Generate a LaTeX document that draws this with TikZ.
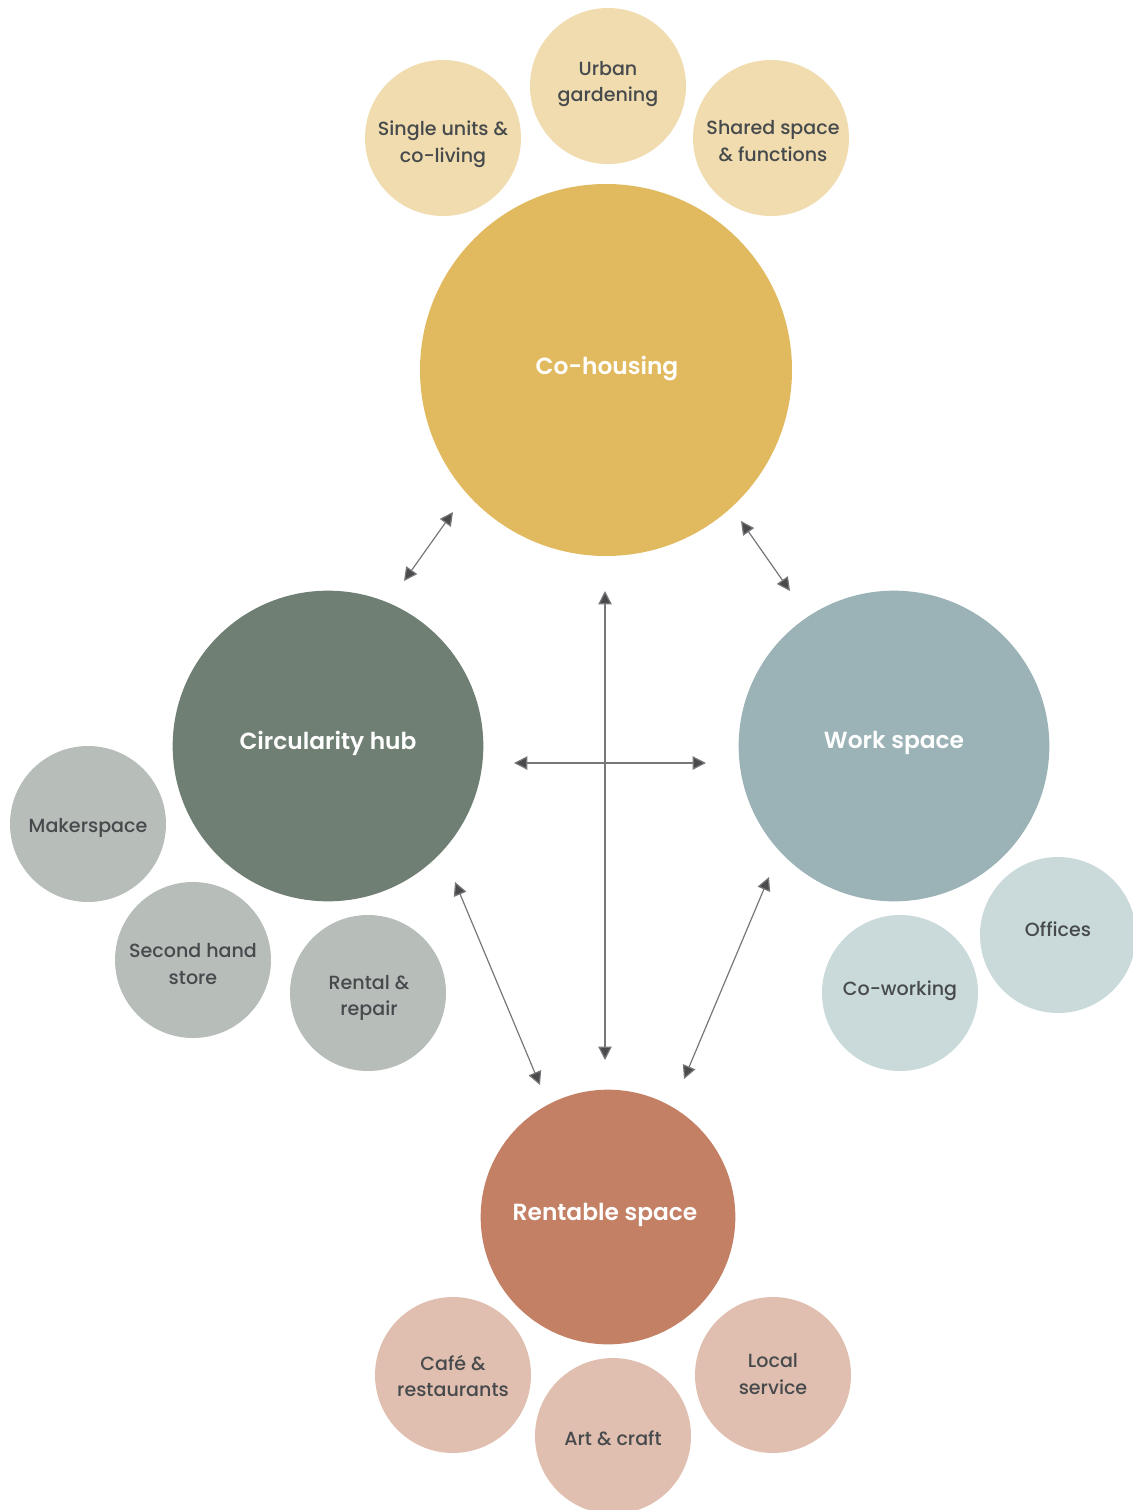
\documentclass[tikz,border=0pt]{standalone}
\usepackage{fontspec}
\setmainfont{Poppins}[UprightFont=* Medium, BoldFont=* SemiBold]
\usetikzlibrary{arrows.meta}
\definecolor{cohouse}{HTML}{E1B95E}
\definecolor{cohouseL}{HTML}{F0DCAE}
\definecolor{circ}{HTML}{6F7F73}
\definecolor{circL}{HTML}{B7BDB8}
\definecolor{work}{HTML}{9BB3B6}
\definecolor{workL}{HTML}{CADADB}
\definecolor{rent}{HTML}{C38065}
\definecolor{rentL}{HTML}{E1BFB0}
\definecolor{txt}{HTML}{474A4C}
\definecolor{arr}{HTML}{4A4A4C}
\tikzset{
  bigc/.style={circle, inner sep=0pt},
  bigt/.style={text=white, font=\fontsize{17.5}{21}\selectfont\bfseries},
  smallc/.style={circle, inner sep=0pt, minimum size=117pt},
  smallt/.style={text=txt, font=\fontsize{14.3}{20}\selectfont, align=center},
  link/.style={draw=arr!75, line width=0.9pt, {Triangle[length=10pt,width=10pt]}-{Triangle[length=10pt,width=10pt]}, arrows={[fill=arr]}}
}
\begin{document}
\begin{tikzpicture}[x=0.75pt,y=-0.75pt]
\useasboundingbox (0,0) rectangle (1132,1510);
% small circles
\node[smallc, fill=cohouseL] (single) at (443,138) {};
\node[smallt] (singlet) at (443,144) {Single units \&\\co-living};
\node[smallc, fill=cohouseL] (urban) at (608,86) {};
\node[smallt] (urbant) at (608,84) {Urban\\gardening};
\node[smallc, fill=cohouseL] (shared) at (771,138) {};
\node[smallt] (sharedt) at (773,141) {Shared space\\\& functions};
\node[smallc, fill=circL] (maker) at (88,824) {};
\node[smallt] (makert) at (88,828) {Makerspace};
\node[smallc, fill=circL] (second) at (193,960) {};
\node[smallt] (secondt) at (193,964) {Second hand\\store};
\node[smallc, fill=circL] (rental) at (368,993) {};
\node[smallt] (rentalt) at (369,998) {Rental \&\\repair};
\node[smallc, fill=workL] (offices) at (1058,935) {};
\node[smallt] (officest) at (1058,929) {Offices};
\node[smallc, fill=workL] (cowork) at (900,993) {};
\node[smallt] (coworkt) at (900,991) {Co-working};
\node[smallc, fill=rentL] (cafe) at (453,1375) {};
\node[smallt] (cafet) at (453,1376) {Café \&\\restaurants};
\node[smallc, fill=rentL] (art) at (613,1436) {};
\node[smallt] (artt) at (613,1438) {Art \& craft};
\node[smallc, fill=rentL] (local) at (773,1375) {};
\node[smallt] (localt) at (773,1374) {Local\\service};
% big circles
\node[bigc, fill=cohouse, minimum size=279pt] (coh) at (606,370) {};
\node[bigt] (coht) at (607,369) {Co-housing};
\node[bigc, fill=circ, minimum size=233pt] (hub) at (328,746) {};
\node[bigt] (hubt) at (328,743) {Circularity hub};
\node[bigc, fill=work, minimum size=233pt] (work) at (894,746) {};
\node[bigt] (workt) at (894,743) {Work space};
\node[bigc, fill=rent, minimum size=191pt] (rent) at (608,1217) {};
\node[bigt] (rentt) at (605,1215) {Rentable space};
% arrow ends
\coordinate (a1) at (453,512); \coordinate (a2) at (404,581);
\coordinate (b1) at (741,521); \coordinate (b2) at (790,591);
\coordinate (c1) at (605,591); \coordinate (c2) at (605,1060);
\coordinate (d1) at (514,763); \coordinate (d2) at (706,763);
\coordinate (e1) at (455,882); \coordinate (e2) at (540,1085);
\coordinate (f1) at (769,877); \coordinate (f2) at (684,1079);
\draw[link] (a1) -- (a2);
\draw[link] (b1) -- (b2);
\draw[link] (c1) -- (c2);
\draw[link] (d1) -- (d2);
\draw[link] (e1) -- (e2);
\draw[link] (f1) -- (f2);
\end{tikzpicture}
\end{document}
